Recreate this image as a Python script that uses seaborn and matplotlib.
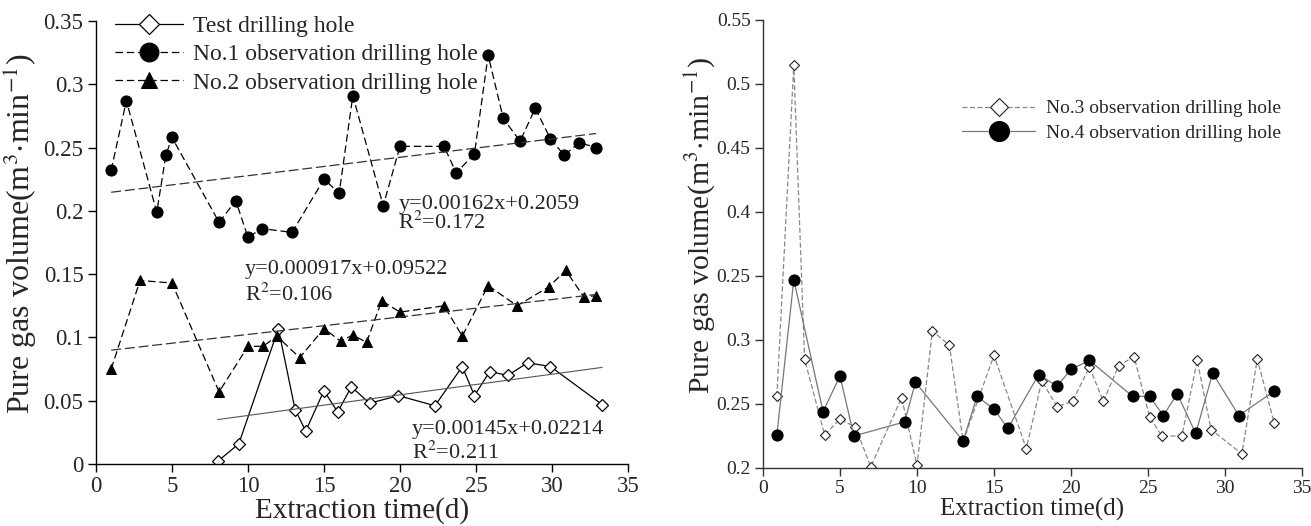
import numpy as np
import pandas as pd
import seaborn as sns
import matplotlib.pyplot as plt

# ---- left panel data ----
test_x = [8.0, 9.4, 12.0, 13.1, 13.8, 15.0, 15.9, 16.8, 18.0, 19.9, 22.3, 24.1, 24.9, 25.9, 27.1, 28.4, 29.9, 33.3]
test_y = [0.002, 0.016, 0.107, 0.043, 0.026, 0.058, 0.041, 0.061, 0.048, 0.054, 0.046, 0.077, 0.054, 0.073, 0.070, 0.080, 0.077, 0.047]

obs1_x = [1.0, 2.0, 4.0, 4.6, 5.0, 8.1, 9.2, 10.0, 10.9, 12.9, 15.0, 16.0, 16.9, 18.9, 20.0,
          22.9, 23.7, 24.9, 25.8, 26.8, 27.9, 28.9, 29.9, 30.8, 31.8, 32.9]
obs1_y = [0.232, 0.287, 0.199, 0.244, 0.258, 0.191, 0.208, 0.179, 0.186, 0.183, 0.225, 0.214, 0.291, 0.204, 0.251,
          0.251, 0.230, 0.245, 0.323, 0.273, 0.255, 0.281, 0.257, 0.244, 0.254, 0.250]

obs2_x = [1.0, 2.9, 5.0, 8.1, 10.0, 11.0, 11.9, 13.4, 15.0, 16.1, 16.9, 17.8, 18.8, 20.0,
          22.9, 24.1, 25.8, 27.7, 29.8, 30.9, 32.1, 32.9]
obs2_y = [0.075, 0.145, 0.143, 0.057, 0.093, 0.093, 0.101, 0.084, 0.107, 0.097, 0.102, 0.096, 0.129, 0.120,
          0.125, 0.101, 0.141, 0.125, 0.140, 0.153, 0.132, 0.133]

# ---- right panel data ----
obs3_x = [0.9, 2.0, 2.7, 4.0, 5.0, 6.0, 7.0, 9.0, 10.0, 11.0, 12.1, 13.0, 15.0, 17.1, 18.1, 19.1, 20.1,
          21.2, 22.1, 23.1, 24.1, 25.1, 25.9, 27.2, 28.2, 29.1, 31.1, 32.1, 33.2]
obs3_y = [0.256, 0.515, 0.285, 0.226, 0.238, 0.232, 0.201, 0.255, 0.202, 0.307, 0.296, 0.221, 0.288, 0.215, 0.268, 0.248, 0.252,
          0.279, 0.252, 0.280, 0.287, 0.240, 0.225, 0.225, 0.284, 0.230, 0.211, 0.285, 0.235]

obs4_x = [0.9, 2.0, 3.9, 5.0, 5.9, 9.2, 9.9, 13.0, 13.9, 15.0, 15.9, 17.9, 19.1, 20.0, 21.2,
          24.0, 25.1, 26.0, 26.9, 28.1, 29.2, 30.9, 33.2]
obs4_y = [0.226, 0.347, 0.244, 0.272, 0.225, 0.236, 0.267, 0.221, 0.256, 0.246, 0.231, 0.273, 0.264, 0.277, 0.284,
          0.256, 0.256, 0.241, 0.258, 0.227, 0.274, 0.241, 0.260]

left_yticks = [0, 0.05, 0.1, 0.15, 0.2, 0.25, 0.3, 0.35]
left_ylabels = ['0', '0.05', '0.1', '0.15', '0.2', '0.25', '0.3', '0.35']
right_yticks = [0.2, 0.25, 0.3, 0.35, 0.4, 0.45, 0.5, 0.55]
right_ylabels = ['0.2', '0.25', '0.3', '0.25', '0.4', '0.45', '0.5', '0.55']
xticks = [0, 5, 10, 15, 20, 25, 30, 35]

sns.set_style('ticks')
plt.rcParams['font.family'] = ['Liberation Serif', 'DejaVu Serif']
plt.rcParams['mathtext.fontset'] = 'stix'

fig = plt.figure(figsize=(13.11, 5.26), dpi=100)
axL = fig.add_axes([0.0732, 0.1179, 0.4058, 0.8421])
axR = fig.add_axes([0.582, 0.1103, 0.4111, 0.8517])

ylab = r'Pure gas volume(m$^3$$\cdot$min$^{-1}$)'

# ---------- left ----------
sns.lineplot(x=test_x, y=test_y, ax=axL, color='black', lw=0.9, marker='D', markersize=6,
             markerfacecolor='white', markeredgecolor='black', markeredgewidth=0.9,
             label='Test drilling hole', errorbar=None)
sns.lineplot(x=obs1_x, y=obs1_y, ax=axL, color='black', lw=0.9, linestyle=(0, (6, 3)), marker='o',
             markersize=8, markerfacecolor='black', markeredgecolor='black',
             label='No.1 observation drilling hole', errorbar=None)
sns.lineplot(x=obs2_x, y=obs2_y, ax=axL, color='black', lw=0.9, linestyle=(0, (6, 3)), marker='^',
             markersize=7, markerfacecolor='black', markeredgecolor='black',
             label='No.2 observation drilling hole', errorbar=None)

# linear trend lines
sns.regplot(x=np.array(test_x), y=np.array(test_y), ax=axL, scatter=False, ci=None, truncate=True,
            line_kws=dict(color='#555555', lw=0.8))
sns.regplot(x=np.array(obs1_x), y=np.array(obs1_y), ax=axL, scatter=False, ci=None, truncate=True,
            line_kws=dict(color='#333333', lw=0.9, linestyle=(0, (8, 3))))
sns.regplot(x=np.array(obs2_x), y=np.array(obs2_y), ax=axL, scatter=False, ci=None, truncate=True,
            line_kws=dict(color='#333333', lw=0.9, linestyle=(0, (8, 3))))

axL.text(19.9, 0.205, 'y=0.00162x+0.2059', fontsize=16, va='center')
axL.text(19.9, 0.1905, r'R$^2$=0.172', fontsize=16, va='center')
axL.text(9.8, 0.154, 'y=0.000917x+0.09522', fontsize=16, va='center')
axL.text(9.8, 0.1335, r'R$^2$=0.106', fontsize=16, va='center')
axL.text(20.8, 0.027, 'y=0.00145x+0.02214', fontsize=16, va='center')
axL.text(20.8, 0.009, r'R$^2$=0.211', fontsize=16, va='center')

axL.set_xlim(0, 35)
axL.set_ylim(0, 0.35)
axL.set_xticks(xticks)
axL.set_yticks(left_yticks)
axL.set_yticklabels(left_ylabels)
axL.tick_params(labelsize=16.5, length=6, width=1, color='black', pad=3)
axL.set_xlabel('Extraction time(d)', fontsize=21, labelpad=0)
axL.set_ylabel(ylab, fontsize=23)
axL.yaxis.set_label_coords(-0.108, 0.52)
sns.despine(ax=axL)
for s in ['left', 'bottom']:
    axL.spines[s].set_color('black')
    axL.spines[s].set_linewidth(1)

axL.legend(loc='upper left', bbox_to_anchor=(0.035, 1.012), frameon=False, fontsize=17,
           handlelength=2.9, handletextpad=0.4, labelspacing=0.28, markerscale=1.7,
           borderpad=0, borderaxespad=0)

# ---------- right ----------
sns.lineplot(x=obs3_x, y=obs3_y, ax=axR, color='#888888', lw=0.9, linestyle=(0, (4, 2)), marker='D',
             markersize=5, markerfacecolor='white', markeredgecolor='#222222', markeredgewidth=0.8,
             label='No.3 observation drilling hole', errorbar=None)
sns.lineplot(x=obs4_x, y=obs4_y, ax=axR, color='#777777', lw=0.9, marker='o',
             markersize=8, markerfacecolor='black', markeredgecolor='black',
             label='No.4 observation drilling hole', errorbar=None)

axR.set_xlim(0, 35)
axR.set_ylim(0.2, 0.55)
axR.set_xticks(xticks)
axR.set_yticks(right_yticks)
axR.set_yticklabels(right_ylabels)
axR.tick_params(labelsize=14, length=6, width=1, color='#333333', pad=3)
axR.set_xlabel('Extraction time(d)', fontsize=18, labelpad=0)
axR.set_ylabel(ylab, fontsize=21.5)
axR.yaxis.set_label_coords(-0.085, 0.54)
sns.despine(ax=axR)
for s in ['left', 'bottom']:
    axR.spines[s].set_color('#333333')
    axR.spines[s].set_linewidth(1)

axR.legend(loc='upper left', bbox_to_anchor=(0.37, 0.822), frameon=False, fontsize=14,
           handlelength=3.75, handletextpad=0.55, labelspacing=0.35, markerscale=1.8,
           borderpad=0, borderaxespad=0)

fig.savefig('out.png', dpi=100)
